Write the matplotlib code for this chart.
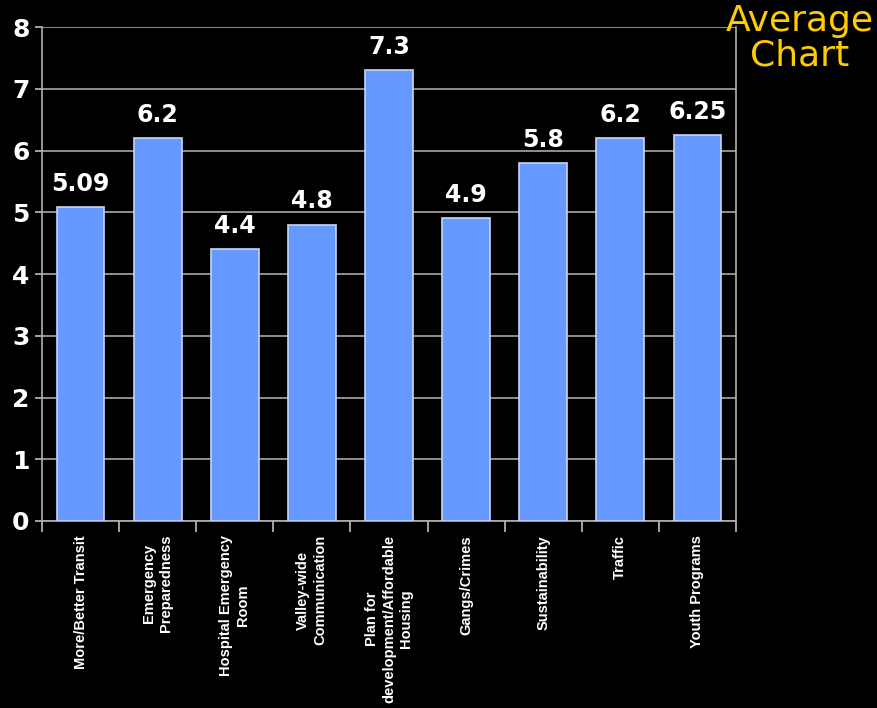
import matplotlib
matplotlib.use("Agg")
import matplotlib.pyplot as plt
from matplotlib import font_manager
import numpy as np

categories = ["More/Better Transit", "Emergency\nPreparedness", "Hospital Emergency\nRoom",
              "Valley-wide\nCommunication", "Plan for\ndevelopment/Affordable\nHousing",
              "Gangs/Crimes", "Sustainability", "Traffic", "Youth Programs"]
values = [5.09, 6.2, 4.4, 4.8, 7.3, 4.9, 5.8, 6.2, 6.25]
value_labels = ["5.09", "6.2", "4.4", "4.8", "7.3", "4.9", "5.8", "6.2", "6.25"]
yticks = [0, 1, 2, 3, 4, 5, 6, 7, 8]

names = {f.name for f in font_manager.fontManager.ttflist}
narrow = "Liberation Sans Narrow" if "Liberation Sans Narrow" in names else "Liberation Sans"

fig = plt.figure(figsize=(8.78, 7.08), dpi=100, facecolor="black")
ax = fig.add_axes([42/878, 187/708, 694/878, 494/708], facecolor="black")

x = np.arange(len(categories))
ax.bar(x, values, width=0.62, color="#6699FF", edgecolor="#C8D4F0", linewidth=1.2, zorder=3)

for xi, v, lab in zip(x, values, value_labels):
    ax.text(xi, v + 0.18, lab, ha="center", va="bottom", color="white",
            fontsize=17, fontweight="bold", family="DejaVu Sans", zorder=4)

ax.set_xlim(-0.5, len(categories) - 0.5)
ax.set_ylim(0, 8)
ax.set_yticks(yticks)
ax.set_yticklabels([str(t) for t in yticks], color="white", fontsize=18, fontweight="bold")
ax.yaxis.grid(True, color="#A8A8A8", linewidth=1.2, zorder=0)
ax.set_axisbelow(True)

ax.set_xticks(x)
ax.set_xticklabels(categories, rotation=90, color="white", fontsize=10.5, fontweight="bold",
                   family=narrow, va="top", ha="center", multialignment="center",
                   linespacing=1.3)
ax.tick_params(axis="x", which="major", length=0, pad=10)
ax.set_xticks(np.arange(-0.5, len(categories)), minor=True)
ax.tick_params(axis="x", which="minor", length=8, color="#C0C0C0", width=1.2)
ax.tick_params(axis="y", length=5, color="#C0C0C0", width=1.2, pad=4)

for s in ["left", "bottom", "right"]:
    ax.spines[s].set_color("#B0B0B0")
    ax.spines[s].set_linewidth(1.2)
ax.spines["top"].set_visible(False)

fig.text(0.995, 0.995, "Average\nChart", ha="right", va="top", color="#FFCC00",
         fontsize=26, linespacing=1.05, family="DejaVu Sans", multialignment="center")

fig.savefig("out.png", dpi=100, facecolor="black")
